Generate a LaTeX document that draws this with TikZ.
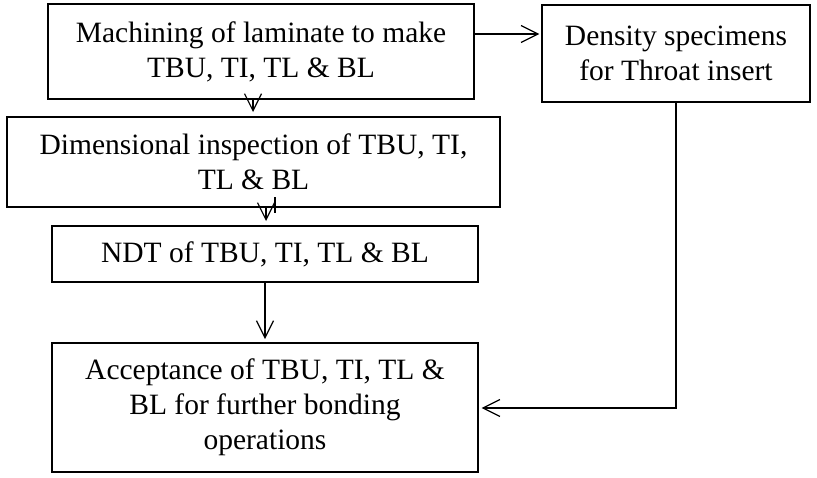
\documentclass[tikz,border=0pt]{standalone}
\usepackage{fontspec}
\setmainfont{Liberation Serif}
\usetikzlibrary{arrows.meta}
\begin{document}
\begin{tikzpicture}[x=1pt,y=1pt,
  box/.style={draw,line width=1.3pt,rectangle,inner sep=0pt,align=center,
    font=\fontsize{29.5}{35}\selectfont},
  arr/.style={line width=1.2pt,-{Straight Barb[length=17pt,width=17pt,line width=1.2pt]}},
  ln/.style={line width=1.2pt}]
\useasboundingbox (0,0) rectangle (817,-477);
\node[box,minimum width=426pt,minimum height=95pt] (A) at (261,-51.5)
  {Machining of laminate to make\\TBU, TI, TL \& BL};
\node[box,minimum width=268pt,minimum height=97pt] (D) at (676,-53.5)
  {Density specimens\\for Throat insert};
\node[box,minimum width=493pt,minimum height=90pt] (B) at (253.5,-162)
  {Dimensional inspection of TBU, TI,\\TL \& BL};
\node[box,minimum width=426pt,minimum height=56pt] (C) at (265,-254)
  {NDT of TBU, TI, TL \& BL};
\node[box,minimum width=426pt,minimum height=129pt] (E) at (265,-407.5)
  {Acceptance of TBU, TI, TL \&\\BL for further bonding\\operations};
\coordinate (ya) at (0,-34);
\coordinate (t1) at (253,-112);
\coordinate (t2) at (266,-221);
\coordinate (s1) at (275,-197);
\coordinate (s2) at (275,-213);
\coordinate (t3) at (265,-339);
\coordinate (yb) at (0,-408);
\draw[arr] (A.east |- ya) -- ([xshift=-2pt]D.west |- ya);
\draw[arr] (A.south -| t1) -- (t1);
\draw[ln] (s1) -- (s2);
\draw[arr] (B.south -| t2) -- (t2);
\draw[arr] (C.south -| t3) -- (t3);
\draw[arr] (D.south) -- (D.south |- yb) -- ([xshift=3pt]E.east |- yb);
\end{tikzpicture}
\end{document}
